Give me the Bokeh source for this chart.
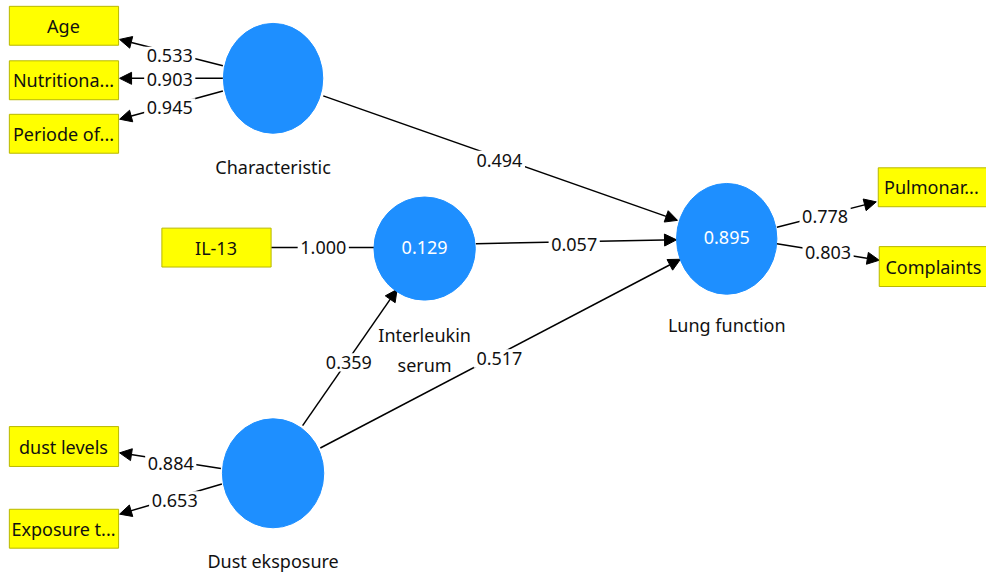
from bokeh.plotting import figure
from bokeh.models import Range1d, ColumnDataSource, Arrow, NormalHead
from bokeh.core.properties import value
from bokeh.embed import file_html
from bokeh.resources import INLINE

# ---- data ----
latent_names = ["Characteristic", "Interleukin", "Lung function", "Dust eksposure"]
latent_r2 = ["", "0.129", "0.895", ""]
indicator_names = ["Age", "Nutritiona...", "Periode of...", "IL-13",
                   "Pulmonar...", "Complaints", "dust levels", "Exposure t..."]
indicator_loadings = [0.533, 0.903, 0.945, 1.000, 0.778, 0.803, 0.884, 0.653]
indicator_arrow = [True, True, True, False, True, True, True, True]
path_from = ["Characteristic", "Interleukin", "Dust eksposure", "Dust eksposure"]
path_to = ["Lung function", "Lung function", "Interleukin", "Lung function"]
path_coef = [0.494, 0.057, 0.359, 0.517]

# ---- layout (pixel positions) ----
lat_pos = {"Characteristic": (277, 80, 101, 113),
           "Interleukin": (431, 255, 103, 106),
           "Lung function": (738, 245, 102, 114),
           "Dust eksposure": (277, 486, 103, 112)}
lat_label_pos = {"Characteristic": [(277, 171, "Characteristic")],
                 "Interleukin": [(431, 344, "Interleukin"), (431, 375, "serum")],
                 "Lung function": [(738, 334, "Lung function")],
                 "Dust eksposure": [(277, 576, "Dust eksposure")]}
box_pos = [(9, 120, 6, 46), (9, 120, 62, 102), (9, 120, 117, 157), (164, 275, 234, 274),
           (892, 1006, 172, 212), (893, 1006, 253, 294), (9, 120, 438, 479), (9, 120, 523, 563)]
box_text_x = [64, 64, 64, 219, 946, 948, 64, 64]
ind_line = [((226, 67), (121, 40)), ((226, 80), (121, 80)), ((226, 93), (121, 122)),
            ((275, 254), (380, 254)), ((789, 233), (890, 207)), ((789, 250), (893, 267)),
            ((224, 481), (121, 465)), ((225, 497), (121, 528))]
ind_label = [(172, 57), (172, 81), (172, 110), (328, 254), (838, 222), (841, 259),
             (173, 476), (177, 514)]
path_line = [((328, 98), (688, 226)), ((483, 250), (687, 246)),
             ((307, 437), (403, 297)), ((325, 460), (691, 266))]
path_label = [(507, 164), (583, 251), (354, 372), (507, 368)]

FONT = value("Noto Sans")
FS = "18px"

p = figure(width=986, height=572, output_backend="svg", toolbar_location=None,
           x_range=Range1d(0, 1002), y_range=Range1d(588, 0),
           min_border=0, outline_line_color=None)
p.axis.visible = False
p.grid.visible = False
p.background_fill_color = "white"

# lines with arrows
xs0, ys0, xs1, ys1 = [], [], [], []
axs0, ays0, axs1, ays1 = [], [], [], []
for (s, e), arr in zip(ind_line, indicator_arrow):
    if arr:
        axs0.append(s[0]); ays0.append(s[1]); axs1.append(e[0]); ays1.append(e[1])
    else:
        xs0.append(s[0]); ys0.append(s[1]); xs1.append(e[0]); ys1.append(e[1])
for s, e in path_line:
    axs0.append(s[0]); ays0.append(s[1]); axs1.append(e[0]); ays1.append(e[1])

p.segment(xs0, ys0, xs1, ys1, line_color="black", line_width=1.5)
asrc = ColumnDataSource(dict(x0=axs0, y0=ays0, x1=axs1, y1=ays1))
p.add_layout(Arrow(source=asrc, x_start="x0", y_start="y0", x_end="x1", y_end="y1",
                   line_color="black", line_width=1.5, level="underlay",
                   end=NormalHead(size=12, fill_color="black", line_color="black", line_width=1)))

# coefficient labels (white backing to interrupt the lines)
lx = [q[0] for q in ind_label] + [q[0] for q in path_label]
ly = [q[1] for q in ind_label] + [q[1] for q in path_label]
lt = ["%.3f" % v for v in indicator_loadings] + ["%.3f" % v for v in path_coef]
p.rect(lx, ly, width=52, height=19, fill_color="white", line_color=None)
p.text(lx, ly, text=lt, text_align="center", text_baseline="middle",
       text_font=FONT, text_font_size=FS, text_color="#111111")

# indicator boxes
p.quad(left=[b[0] for b in box_pos], right=[b[1] for b in box_pos],
       top=[b[2] for b in box_pos], bottom=[b[3] for b in box_pos],
       fill_color="#FFFF00", line_color="#B8B800", line_width=1)
p.text(box_text_x, [(b[2] + b[3]) / 2 for b in box_pos], text=indicator_names,
       text_align="center", text_baseline="middle", text_font=FONT,
       text_font_size=FS, text_color="#111111")

# latent variables
p.ellipse([lat_pos[n][0] for n in latent_names], [lat_pos[n][1] for n in latent_names],
          width=[lat_pos[n][2] for n in latent_names],
          height=[lat_pos[n][3] for n in latent_names],
          fill_color="#1E8FFF", line_color="#1E8FFF")
p.text([lat_pos[n][0] for n in latent_names], [lat_pos[n][1] - 1 for n in latent_names],
       text=latent_r2, text_align="center", text_baseline="middle", text_font=FONT,
       text_font_size=FS, text_color="white")
tx, ty, tt = [], [], []
for n in latent_names:
    for (x, y, t) in lat_label_pos[n]:
        tx.append(x); ty.append(y); tt.append(t)
p.text(tx, ty, text=tt, text_align="center", text_baseline="middle", text_font=FONT,
       text_font_size=FS, text_color="#111111")

open("out.html", "w").write(file_html(p, INLINE))
